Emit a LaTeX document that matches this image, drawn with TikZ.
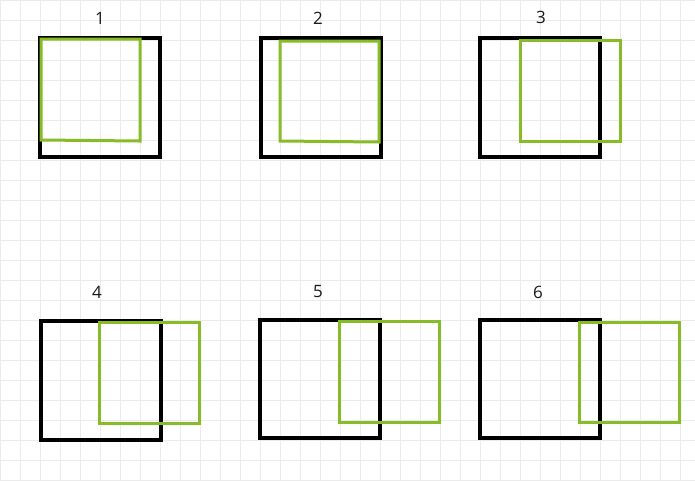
\documentclass[tikz,border=0pt]{standalone}
\usepackage{fontspec}
\setmainfont{Open Sans}
\definecolor{gridc}{HTML}{EBEBEB}
\definecolor{greenc}{HTML}{86BC25}
\begin{document}
\begin{tikzpicture}[x=1pt,y=-1pt,
  blackbox/.style={draw=black,line width=3.6pt},
  greenbox/.style={draw=greenc,line width=3pt},
  lbl/.style={font=\fontsize{17}{19}\selectfont,inner sep=0pt,text=black!90}]
\useasboundingbox (0,0) rectangle (695,480);
\fill[white] (0,0) rectangle (695,480);
\foreach \x in {0,20,...,680} \draw[gridc,line width=1pt] (\x,0) -- (\x,480);
\foreach \y in {0,20,...,480} \draw[gridc,line width=1pt] (0,\y) -- (695,\y);
% 1
\draw[blackbox] (40,38) rectangle (160,157);
\draw[greenbox] (41,39) -- (140,39) -- (140,141) -- (41,140) -- cycle;
\node[lbl] (l1) at (100,18) {1};
% 2
\draw[blackbox] (261,38) rectangle (381,157);
\draw[greenbox] (280,41) -- (379,41) -- (379,142) -- (280,141) -- cycle;
\node[lbl] (l2) at (318,18) {2};
% 3
\draw[blackbox] (480,38) rectangle (600,157);
\draw[greenbox] (520,40) rectangle (620,141);
\node[lbl] (l3) at (541,17) {3};
% 4
\draw[blackbox] (41,321) rectangle (161,440);
\draw[greenbox] (99,322) rectangle (199,423);
\node[lbl] (l4) at (97,292) {4};
% 5
\draw[blackbox] (260,320) rectangle (380,438);
\draw[greenbox] (339,321) rectangle (439,422);
\node[lbl] (l5) at (318,292) {5};
% 6
\draw[blackbox] (480,320) rectangle (600,438);
\draw[greenbox] (579,322) rectangle (679,422);
\node[lbl] (l6) at (538,292) {6};
\end{tikzpicture}
\end{document}
